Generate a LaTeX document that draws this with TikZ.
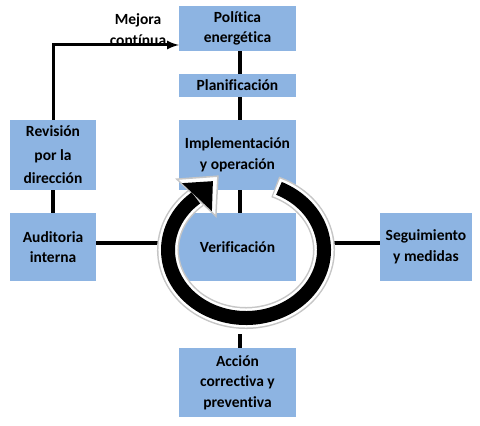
\documentclass[tikz,border=0pt]{standalone}
\usepackage{fontspec}
\setmainfont{Carlito}[Ligatures=NoCommon]
\usetikzlibrary{arrows,calc,shapes.geometric}
\definecolor{cajaazul}{RGB}{141,180,226}

\begin{document}
\begin{tikzpicture}[x=1pt,y=1pt]
% Node styles ---
\tikzstyle{caja} = [rectangle, fill = cajaazul, inner sep = 0pt, align = center, font = \bfseries\fontsize{15.5}{20.5}\selectfont] % Boxes
\tikzstyle{etiq} = [align = center, inner sep = 0pt, font = \bfseries\fontsize{15.5}{21}\selectfont] % Labels
\tikzstyle{anillo} = [ellipse, inner sep = 0pt, minimum width = 172pt, minimum height = 168pt] % Ring
% Edge styles
\tikzstyle{lin} = [draw = black, line width = 3.5pt] % Links
\tikzstyle{flecha} = [-latex, line width = 3pt] % Arrow
% Begin Figure ---
\useasboundingbox (0,0) rectangle (480,426);
% Nodes
\node at (237.5,397.5) [caja, minimum width = 117pt, minimum height = 45pt] (pol) {Política\\energética};
\node at (237.5,340.5) [caja, minimum width = 117pt, minimum height = 23pt] (plan) {Planificación};
\node at (237.5,271.0) [caja, minimum width = 117pt, minimum height = 70pt] (impl) {Implementación\\y operación};
\node at (237.5,179.0) [caja, minimum width = 117pt, minimum height = 68pt] (verif) {Verificación};
\node at (237.5,43.5) [caja, minimum width = 117pt, minimum height = 69pt] (accion) {Acción\\correctiva y\\preventiva};
\node at (53.0,271.0) [caja, minimum width = 86pt, minimum height = 70pt, font = \bfseries\fontsize{15.5}{23.5}\selectfont] (rev) {Revisión\\por la\\dirección};
\node at (53.0,179.0) [caja, minimum width = 86pt, minimum height = 68pt] (aud) {Auditoria\\interna};
\node at (426.0,179.0) [caja, minimum width = 92pt, minimum height = 68pt] (seg) {Seguimiento\\y medidas};
\node at (138.0,396.5) [etiq] (mejora) {Mejora\\contínua};
\node at (246.0,176.0) [anillo] (ring) {};
% Paths
\path ([xshift=2.5pt]pol.south) edge [lin] ([xshift=2.5pt]plan.north);
\path ([xshift=2.5pt]plan.south) edge [lin] ([xshift=2.5pt]impl.north);
\path ([xshift=2.5pt]impl.south) edge [lin] ([xshift=2.5pt]verif.north);
\path ([xshift=2.5pt]accion.north |- ring.south) edge [lin] ([xshift=2.5pt]accion.north);
\path (rev) edge [lin] (aud);
\path ([yshift=4pt]aud.east) edge [lin] ([yshift=4pt]aud.east -| ring.west);
\path ([yshift=4pt]seg.west) edge [lin] ([yshift=4pt]seg.west -| ring.east);
\draw [flecha] (rev.north) |- ([yshift=-16.5pt]pol.west);
% Ring
\coordinate (B) at ($(ring.center)+(129:78 and 68)$);
\draw [gray!45, line width = 22pt] ($(ring.center)+(68:78 and 68)$) arc [start angle = 68, end angle = -231, x radius = 78pt, y radius = 68pt];
\draw [white, line width = 19pt] ($(ring.center)+(67:78 and 68)$) arc [start angle = 67, end angle = -231, x radius = 78pt, y radius = 68pt];
\filldraw [draw = gray!45, fill = white, line width = 1.5pt] ($(B)+(-20,18)$) -- ($(B)+(21,21)$) -- ($(B)+(19,-19)$) -- cycle;
\draw [black, line width = 14pt] ($(ring.center)+(65:78 and 68)$) arc [start angle = 65, end angle = -230, x radius = 78pt, y radius = 68pt];
\fill [black] ($(B)+(-15,14)$) -- ($(B)+(16,16)$) -- ($(B)+(15,-14)$) -- cycle;
\end{tikzpicture}
\end{document}
